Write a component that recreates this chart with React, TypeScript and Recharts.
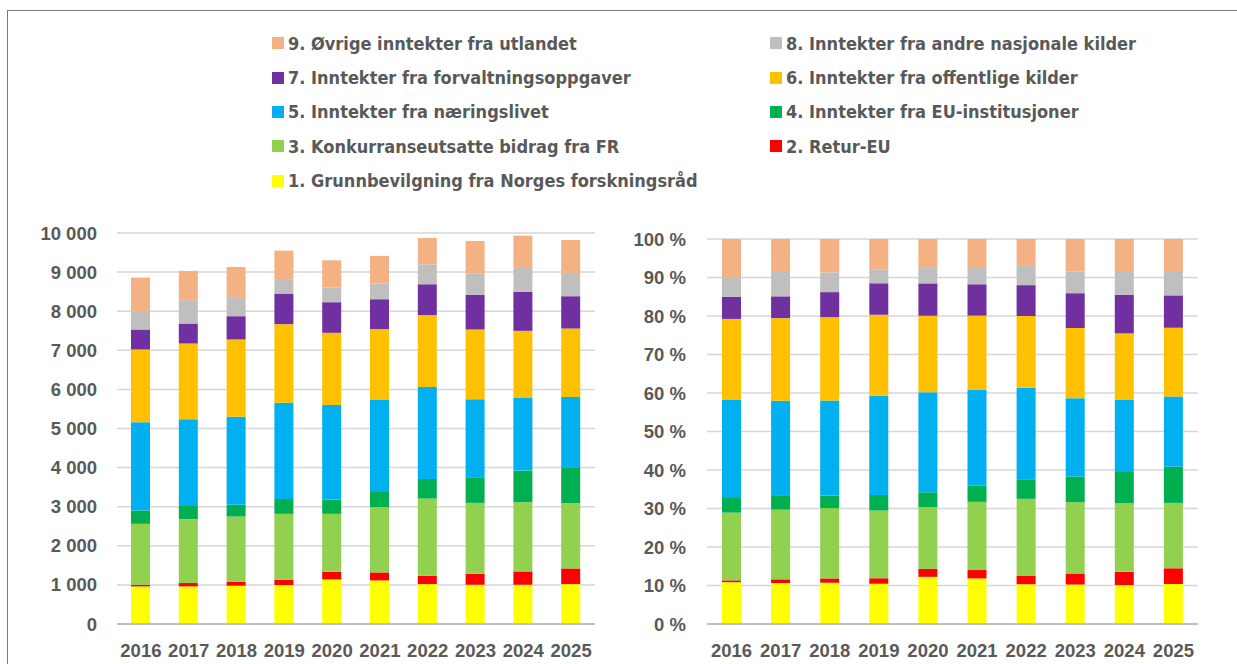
import React from "react";
import { BarChart, Bar, XAxis, YAxis, CartesianGrid } from "recharts";

const years = ["2016", "2017", "2018", "2019", "2020", "2021", "2022", "2023", "2024", "2025"];

const grunnbevilgning = [962, 962, 979, 996, 1140, 1115, 1021, 1004, 1004, 1021];
const returEu = [42, 85, 102, 136, 196, 204, 213, 281, 341, 400];
const konkurranse = [1558, 1634, 1668, 1685, 1481, 1668, 1975, 1813, 1770, 1668];
const euInstitusjoner = [340, 340, 298, 383, 366, 392, 502, 655, 808, 920];
const naeringslivet = [2255, 2213, 2255, 2460, 2417, 2349, 2349, 1992, 1856, 1795];
const offentlige = [1864, 1940, 1975, 2008, 1847, 1812, 1838, 1787, 1719, 1753];
const forvaltning = [511, 511, 595, 783, 783, 766, 791, 885, 996, 826];
const andreNasjonale = [451, 596, 468, 349, 374, 400, 511, 553, 612, 596];
const utlandet = [877, 749, 792, 749, 698, 707, 672, 826, 826, 842];

const leftTicks = [0, 1000, 2000, 3000, 4000, 5000, 6000, 7000, 8000, 9000, 10000];
const rightTicks = [0, 0.1, 0.2, 0.3, 0.4, 0.5, 0.6, 0.7, 0.8, 0.9, 1];

const series = [
  { key: "s1", name: "1. Grunnbevilgning fra Norges forskningsråd", color: "#FFFF00", values: grunnbevilgning },
  { key: "s2", name: "2. Retur-EU", color: "#FF0000", values: returEu },
  { key: "s3", name: "3. Konkurranseutsatte bidrag fra FR", color: "#92D050", values: konkurranse },
  { key: "s4", name: "4. Inntekter fra EU-institusjoner", color: "#00B050", values: euInstitusjoner },
  { key: "s5", name: "5. Inntekter fra næringslivet", color: "#00B0F0", values: naeringslivet },
  { key: "s6", name: "6. Inntekter fra offentlige kilder", color: "#FFC000", values: offentlige },
  { key: "s7", name: "7. Inntekter fra forvaltningsoppgaver", color: "#7030A0", values: forvaltning },
  { key: "s8", name: "8. Inntekter fra andre nasjonale kilder", color: "#BFBFBF", values: andreNasjonale },
  { key: "s9", name: "9. Øvrige inntekter fra utlandet", color: "#F4B183", values: utlandet },
];

const data = years.map((year, i) => {
  const row: Record<string, string | number> = { year };
  series.forEach((s) => {
    row[s.key] = s.values[i];
  });
  return row;
});

// legend order as in the figure: two columns, highest number first
const legendRows = [
  ["s9", "s8"],
  ["s7", "s6"],
  ["s5", "s4"],
  ["s3", "s2"],
  ["s1"],
];

const tickFont = {
  fontFamily: '"Liberation Sans", Arial, sans-serif',
  fontWeight: 700,
  fontSize: 18.5,
  fill: "#595959",
};

const fmtThousands = (v: number) =>
  v >= 1000 ? `${Math.floor(v / 1000)} ${String(v % 1000).padStart(3, "0")}` : `${v}`;

const fmtPercent = (v: number) => `${Math.round(v * 100)} %`;

const Legend = () => {
  const rowCenters = [43, 77.5, 111.5, 146, 180.5];
  const colMarker = [272, 770];
  return (
    <>
      {legendRows.map((row, r) =>
        row.map((key, c) => {
          const s = series.find((x) => x.key === key)!;
          return (
            <div
              key={key}
              style={{
                position: "absolute",
                left: colMarker[c],
                top: rowCenters[r] - 12,
                height: 24,
                display: "flex",
                alignItems: "center",
                whiteSpace: "nowrap",
              }}
            >
              <span
                style={{
                  display: "inline-block",
                  width: 12,
                  height: 12,
                  background: s.color,
                  marginRight: 4,
                }}
              />
              <span
                style={{
                  fontFamily: '"Liberation Sans Narrow", "DejaVu Sans Condensed", Roboto, sans-serif',
                  fontWeight: 700,
                  fontSize: 18,
                  color: "#595959",
                }}
              >
                {s.name}
              </span>
            </div>
          );
        })
      )}
    </>
  );
};

const bars = () =>
  series.map((s) => (
    <Bar
      key={s.key}
      dataKey={s.key}
      name={s.name}
      stackId="a"
      fill={s.color}
      barSize={19}
      isAnimationActive={false}
    />
  ));

export default function App() {
  return (
    <div
      style={{
        position: "absolute",
        left: 0,
        top: 0,
        width: 1237,
        height: 664,
        background: "#ffffff",
        overflow: "hidden",
      }}
    >
      <div
        style={{
          position: "absolute",
          left: 7,
          top: 10,
          width: 1400,
          height: 800,
          borderTop: "1px solid #7a7a7a",
          borderLeft: "1px solid #7a7a7a",
        }}
      />
      <Legend />

      <div style={{ position: "absolute", left: 0, top: 200 }}>
        <BarChart
          width={620}
          height={464}
          data={data}
          margin={{ top: 33, right: 25, bottom: 10, left: 0 }}
        >
          <CartesianGrid vertical={false} stroke="#d6d6d6" strokeWidth={1.5} />
          <XAxis
            dataKey="year"
            tickLine={false}
            tickSize={0}
            tickMargin={20}
            height={30}
            axisLine={{ stroke: "#bfbfbf", strokeWidth: 2 }}
            tick={tickFont}
            interval={0}
          />
          <YAxis
            width={117}
            domain={[0, 10000]}
            ticks={leftTicks}
            tickFormatter={fmtThousands}
            axisLine={false}
            tickLine={false}
            tickSize={0}
            tickMargin={20}
            tick={tickFont}
            interval={0}
          />
          {bars()}
        </BarChart>
      </div>

      <div style={{ position: "absolute", left: 620, top: 200 }}>
        <BarChart
          width={617}
          height={464}
          data={data}
          stackOffset="expand"
          margin={{ top: 39, right: 39, bottom: 10, left: 0 }}
        >
          <CartesianGrid vertical={false} stroke="#d6d6d6" strokeWidth={1.5} />
          <XAxis
            dataKey="year"
            tickLine={false}
            tickSize={0}
            tickMargin={20}
            height={30}
            axisLine={{ stroke: "#bfbfbf", strokeWidth: 2 }}
            tick={tickFont}
            interval={0}
          />
          <YAxis
            width={87}
            domain={[0, 1]}
            ticks={rightTicks}
            tickFormatter={fmtPercent}
            axisLine={false}
            tickLine={false}
            tickSize={0}
            tickMargin={21}
            tick={tickFont}
            interval={0}
          />
          {bars()}
        </BarChart>
      </div>
    </div>
  );
}
